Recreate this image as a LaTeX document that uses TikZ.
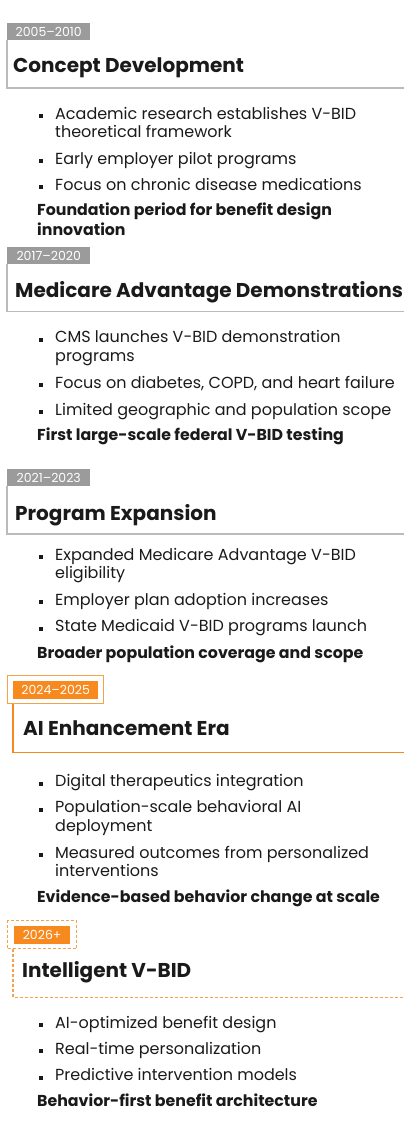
\documentclass[tikz,border=0pt]{standalone}
\usepackage{fontspec}
\setmainfont{Poppins}
\usetikzlibrary{positioning}
\definecolor{yeargray}{HTML}{9B9B9B}
\definecolor{rulegray}{HTML}{BBBBBB}
\definecolor{accent}{HTML}{F7891F}
\definecolor{accentsoft}{HTML}{F5A24E}
\definecolor{ink}{HTML}{1A1A1A}

\begin{document}
\begin{tikzpicture}[x=1pt,y=-1pt,
    yearbox/.style={fill=yeargray,text=white,font=\fontsize{12.5}{14}\selectfont,
      anchor=north west,inner sep=0pt,minimum width=83pt,minimum height=17pt},
    yearhot/.style={yearbox,fill=accent,anchor=center,minimum height=18pt},
    yearframe/.style={draw=accentsoft,line width=1.3pt,anchor=north west,inner sep=0pt},
    phasetitle/.style={anchor=base west,inner sep=0pt,text=ink,font=\fontsize{20}{24}\selectfont\bfseries},
    bulletitem/.style={anchor=base west,inner sep=0pt,align=left,text=ink,font=\fontsize{16}{18.5}\selectfont},
    takeaway/.style={anchor=base west,inner sep=0pt,align=left,text=ink,font=\fontsize{15.8}{20}\selectfont\bfseries},
    phaserule/.style={draw=rulegray,line width=1.2pt},
    hotrule/.style={draw=accent,line width=1.2pt},
    futurerule/.style={draw=accentsoft,line width=1.3pt,dash pattern=on 3pt off 2pt}]
\useasboundingbox (0,0) rectangle (416,1148);

% 2005-2010
\node[yearbox] (y1) at (7,23) {2005--2010};
\node[phasetitle] (t1) at (13,73) {Concept Development};
\coordinate (c1) at (7,88);
\coordinate (e1) at (404,88);
\draw[phaserule] (y1.south west) -- (c1) -- (e1);
\node[bulletitem] (a1) at (55,137.5) {Academic research establishes V-BID\\theoretical framework};
\node[bulletitem] (a2) at (55,164) {Early employer pilot programs};
\node[bulletitem] (a3) at (55,190) {Focus on chronic disease medications};
\node[takeaway] (s1) at (37,235) {Foundation period for benefit design\\innovation};

% 2017-2020
\node[yearbox] (y2) at (7,247) {2017--2020};
\node[phasetitle] (t2) at (15,297) {Medicare Advantage Demonstrations};
\coordinate (c2) at (7,311.5);
\coordinate (e2) at (404,311.5);
\draw[phaserule] (y2.south west) -- (c2) -- (e2);
\node[bulletitem] (b1) at (55,361.2) {CMS launches V-BID demonstration\\programs};
\node[bulletitem] (b2) at (55,388) {Focus on diabetes, COPD, and heart failure};
\node[bulletitem] (b3) at (55,415) {Limited geographic and population scope};
\node[takeaway] (s2) at (37,440) {First large-scale federal V-BID testing};

% 2021-2023
\node[yearbox] (y3) at (7,469) {2021--2023};
\node[phasetitle] (t3) at (15,520) {Program Expansion};
\coordinate (c3) at (7,534);
\coordinate (e3) at (404,534);
\draw[phaserule] (y3.south west) -- (c3) -- (e3);
\node[bulletitem] (d1) at (55,578.5) {Expanded Medicare Advantage V-BID\\eligibility};
\node[bulletitem] (d2) at (55,605) {Employer plan adoption increases};
\node[bulletitem] (d3) at (55,631.7) {State Medicaid V-BID programs launch};
\node[takeaway] (s3) at (37,658) {Broader population coverage and scope};

% 2024-2025
\node[yearframe,minimum width=96pt,minimum height=28pt] (f4) at (7,675) {};
\node[yearhot,minimum width=85pt] (y4) at (f4.center) {2024--2025};
\node[phasetitle] (t4) at (23,735) {AI Enhancement Era};
\coordinate (c4) at (13,752.3);
\coordinate (e4) at (404,752.3);
\draw[hotrule] (f4.south -| c4) -- (c4) -- (e4);
\node[bulletitem] (g1) at (55,786.7) {Digital therapeutics integration};
\node[bulletitem] (g2) at (55,831.2) {Population-scale behavioral AI\\deployment};
\node[bulletitem] (g3) at (55,876.5) {Measured outcomes from personalized\\interventions};
\node[takeaway] (s4) at (37,902.7) {Evidence-based behavior change at scale};

% 2026+
\node[yearframe,dash pattern=on 3pt off 2pt,minimum width=69pt,minimum height=28pt] (f5) at (7,920) {};
\node[yearhot,minimum width=56pt] (y5) at (f5.center) {2026+};
\node[phasetitle] (t5) at (22,977) {Intelligent V-BID};
\coordinate (c5) at (13,997.7);
\coordinate (e5) at (404,997.7);
\draw[futurerule] (f5.south -| c5) -- (c5) -- (e5);
\node[bulletitem] (h1) at (55,1028) {AI-optimized benefit design};
\node[bulletitem] (h2) at (55,1054) {Real-time personalization};
\node[bulletitem] (h3) at (55,1080.7) {Predictive intervention models};
\node[takeaway] (s5) at (37,1106) {Behavior-first benefit architecture};

% bullet squares, lifted to the first line of wrapped items
\foreach \b/\k in {a1/1,a2/0,a3/0,b1/1,b2/0,b3/0,d1/1,d2/0,d3/0,g1/0,g2/1,g3/1,h1/0,h2/0,h3/0}
  \fill[ink] ([xshift=-16pt,yshift=1pt+18.5pt*\k]\b.base west) rectangle ++(4,-4);
\end{tikzpicture}
\end{document}
